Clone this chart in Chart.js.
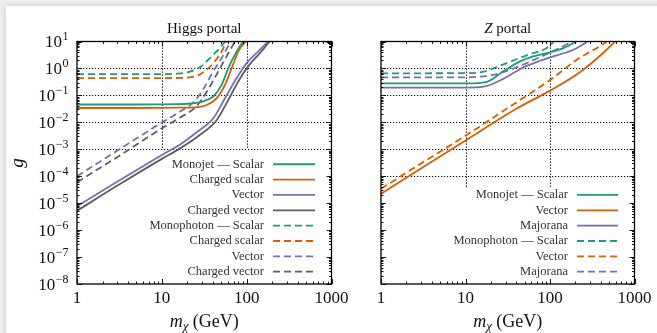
<!DOCTYPE html>
<html>
<head>
<meta charset="utf-8">
<script src="https://cdn.jsdelivr.net/npm/chart.js@4.4.1/dist/chart.umd.min.js"></script>
<style>
  html, body { margin: 0; padding: 0; width: 657px; height: 333px; overflow: hidden; background: #efefef; }
  #card { position: absolute; left: 6px; top: 6px; width: 670px; height: 340px; background: #fff; box-shadow: 0 0 5px rgba(0,0,0,0.18); }
  canvas { position: absolute; top: 0; }
</style>
</head>
<body>
<div id="card"></div>
<canvas id="higgs" width="362" height="333" style="left:0px"></canvas>
<canvas id="zport" width="317" height="333" style="left:340px"></canvas>
<script>
// axis ticks
var massTicks = [1, 10, 100, 1000];
var massTickLabels = ["1", "10", "100", "1000"];
var gExponents = [1, 0, -1, -2, -3, -4, -5, -6, -7, -8];

// Higgs portal, monojet (solid)
var hJetScalarM = [1, 5, 15, 22, 28, 34, 40.4, 50.7, 60.8, 76.2, 91, 100];
var hJetScalarG = [0.046, 0.046, 0.047, 0.05, 0.055, 0.068, 0.091, 0.246, 1.03, 4.3, 10, 15];
var hJetChScalarM = [1, 5, 15, 25, 33.8, 44.3, 55.5, 66.6, 79.6, 97.3, 105];
var hJetChScalarG = [0.034, 0.034, 0.035, 0.036, 0.044, 0.079, 0.246, 1.03, 4.3, 10, 13];
var hJetVectorM = [1, 3, 10, 16.4, 25.7, 40.4, 55.5, 76.2, 100, 137, 180, 195];
var hJetVectorG = [7.7e-6, 6.4e-5, 6.1e-4, 1.5e-3, 4.3e-3, 0.0142, 0.078, 0.44, 1.58, 4.3, 10, 12];
var hJetChVectorM = [1, 3, 10, 16.4, 28, 44.3, 60.8, 79.6, 104, 143, 188, 200];
var hJetChVectorG = [5.2e-6, 4.5e-5, 4.4e-4, 1.08e-3, 3.4e-3, 0.012, 0.068, 0.33, 1.19, 3.7, 10, 12];
// Higgs portal, monophoton (dashed)
var hPhoScalarM = [1, 10, 15, 20, 28, 36.9, 46.3, 55.5, 60];
var hPhoScalarG = [0.62, 0.62, 0.64, 0.72, 1.1, 2.43, 4.95, 9.6, 12];
var hPhoChScalarM = [1, 10, 18, 25.7, 33.8, 42.2, 50.7, 58, 62];
var hPhoChScalarG = [0.44, 0.44, 0.45, 0.53, 0.89, 1.83, 4.3, 9.6, 12];
var hPhoVectorM = [1, 3, 10, 16.4, 23.5, 30.8, 40.4, 50.7, 63.6, 68];
var hPhoVectorG = [1e-4, 9e-4, 0.0098, 0.025, 0.055, 0.17, 0.78, 2.43, 8.8, 12];
var hPhoChVectorM = [1, 3, 10, 16.4, 25.7, 35.3, 46.3, 58, 71, 75];
var hPhoChVectorG = [6e-5, 5.2e-4, 6e-3, 0.015, 0.04, 0.17, 0.78, 2.8, 8.8, 12];

// Z portal, monojet (solid)
var zJetScalarM = [1, 10, 17.8, 28, 44.2, 63.4, 100, 144, 198, 210];
var zJetScalarG = [0.28, 0.28, 0.32, 0.78, 1.83, 2.81, 3.95, 5.7, 9.6, 11];
var zJetVectorM = [1, 2.1, 10, 40.4, 100, 248, 588, 620];
var zJetVectorG = [2.2e-5, 9.8e-5, 2.1e-3, 0.0325, 0.15, 0.9, 10, 12];
var zJetMajoranaM = [1, 10, 16.3, 28, 48.3, 76.2, 120, 189, 272, 290];
var zJetMajoranaG = [0.195, 0.195, 0.21, 0.41, 1.1, 1.93, 3.06, 4.95, 9.6, 11];
// Z portal, monophoton (dashed)
var zPhoScalarM = [1, 10, 16, 30.7, 53, 91.4, 105, 112];
var zPhoScalarG = [0.66, 0.67, 0.75, 1.58, 3.06, 5.7, 8.1, 11];
var zPhoVectorM = [1, 2.1, 10, 40, 100, 207, 469, 500];
var zPhoVectorG = [3.4e-5, 1.5e-4, 3.2e-3, 0.055, 0.37, 2.1, 10, 12];
var zPhoMajoranaM = [1, 10, 21.3, 33.6, 53, 100, 172, 200];
var zPhoMajoranaG = [0.47, 0.47, 0.58, 0.89, 1.58, 3.9, 9.0, 12];

var GREEN = "#1b9e77", ORANGE = "#d95f02", PURPLE = "#7570b3", GREY = "#5e5e5e";
var DASH = [7, 4];
var SERIF = "'Liberation Serif', 'DejaVu Serif', serif";

function pts(m, g) {
  return m.map(function (v, i) { return { x: v, y: g[i] }; });
}

function line(label, m, g, color, dashed) {
  return {
    label: label,
    data: pts(m, g),
    borderColor: color,
    borderWidth: 1.8,
    borderDash: dashed ? DASH : [],
    pointRadius: 0,
    fill: false,
    cubicInterpolationMode: "monotone",
  };
}

// draws grid, frame, ticks, labels and legend in the matplotlib look
var decoPlugin = {
  id: "deco",
  beforeDatasetsDraw: function (chart, args, o) {
    var ctx = chart.ctx, a = chart.chartArea, x = chart.scales.x, y = chart.scales.y;
    ctx.save();
    ctx.strokeStyle = "#000";
    ctx.lineWidth = 1.1;
    ctx.setLineDash([1.2, 1.8]);
    var yb = y.getPixelForValue(o.gridXBottom);
    [10, 100].forEach(function (v) {
      var px = Math.round(x.getPixelForValue(v)) + 0.5;
      ctx.beginPath(); ctx.moveTo(px, a.top); ctx.lineTo(px, yb); ctx.stroke();
    });
    gExponents.forEach(function (e) {
      var v = Math.pow(10, e);
      if (v >= 10 || v < o.gridYMin) return;
      var py = Math.round(y.getPixelForValue(v)) + 0.5;
      ctx.beginPath(); ctx.moveTo(a.left, py); ctx.lineTo(a.right, py); ctx.stroke();
    });
    ctx.restore();
  },
  afterDraw: function (chart, args, o) {
    var ctx = chart.ctx, a = chart.chartArea, x = chart.scales.x, y = chart.scales.y;
    ctx.save();
    // ticks, inward on all four sides
    ctx.strokeStyle = "#000";
    ctx.lineWidth = 0.9;
    function vtick(px, len) {
      ctx.beginPath();
      ctx.moveTo(px, a.bottom); ctx.lineTo(px, a.bottom - len);
      ctx.moveTo(px, a.top); ctx.lineTo(px, a.top + len);
      ctx.stroke();
    }
    function htick(py, len) {
      ctx.beginPath();
      ctx.moveTo(a.left, py); ctx.lineTo(a.left + len, py);
      ctx.moveTo(a.right, py); ctx.lineTo(a.right - len, py);
      ctx.stroke();
    }
    massTicks.forEach(function (v, i) {
      vtick(Math.round(x.getPixelForValue(v)) + 0.5, 5);
      if (i < massTicks.length - 1) {
        for (var k = 2; k < 10; k++) vtick(Math.round(x.getPixelForValue(k * v)) + 0.5, 2.5);
      }
    });
    gExponents.forEach(function (e) {
      var v = Math.pow(10, e);
      htick(Math.round(y.getPixelForValue(v)) + 0.5, 5);
      if (e < 1) {
        for (var k = 2; k < 10; k++) htick(Math.round(y.getPixelForValue(k * v)) + 0.5, 2.5);
      }
    });
    // frame
    ctx.lineWidth = 1.3;
    ctx.strokeRect(a.left, a.top, a.right - a.left, a.bottom - a.top);

    ctx.fillStyle = "#111";
    // x tick labels
    ctx.font = "17px " + SERIF;
    ctx.textAlign = "center";
    ctx.textBaseline = "alphabetic";
    massTicks.forEach(function (v, i) {
      ctx.fillText(massTickLabels[i], x.getPixelForValue(v), 302.5);
    });
    // y tick labels 10^e
    if (o.yLabels) {
      ctx.textAlign = "left";
      gExponents.forEach(function (e) {
        var py = y.getPixelForValue(Math.pow(10, e));
        var sup = e < 0 ? "\u2212" + (-e) : String(e);
        ctx.font = "17px " + SERIF;
        var wb = ctx.measureText("10").width;
        ctx.font = "12px " + SERIF;
        var ws = ctx.measureText(sup).width;
        var x0 = 68.5 - wb - ws - 0.5;
        ctx.font = "17px " + SERIF;
        ctx.fillText("10", x0, py + 5.5);
        ctx.font = "12px " + SERIF;
        ctx.fillText(sup, x0 + wb + 0.5, py - 1.5);
      });
      // y axis title
      ctx.save();
      ctx.translate(23, 163);
      ctx.rotate(-Math.PI / 2);
      ctx.font = "italic 19px " + SERIF;
      ctx.textAlign = "center";
      ctx.fillText("g", 0, 0);
      ctx.restore();
    }
    // x axis title: m_chi (GeV)
    var cx = (a.left + a.right) / 2;
    ctx.textAlign = "left";
    ctx.font = "italic 18px " + SERIF;
    var w1 = ctx.measureText("m").width;
    ctx.font = "italic 13px " + SERIF;
    var w2 = ctx.measureText("\u03c7").width;
    ctx.font = "18px " + SERIF;
    var w3 = ctx.measureText(" (GeV)").width;
    var tx = cx - (w1 + w2 + w3) / 2;
    ctx.font = "italic 18px " + SERIF;
    ctx.fillText("m", tx, 326.5);
    ctx.font = "italic 13px " + SERIF;
    ctx.fillText("\u03c7", tx + w1, 329.5);
    ctx.font = "18px " + SERIF;
    ctx.fillText(" (GeV)", tx + w1 + w2, 326.5);
    // panel title
    ctx.font = (o.titleItalic ? "italic " : "") + "15px " + SERIF;
    var t1 = ctx.measureText(o.titleA).width;
    ctx.font = "15px " + SERIF;
    var t2 = ctx.measureText(o.titleB).width;
    var ttx = cx - (t1 + t2) / 2;
    ctx.font = (o.titleItalic ? "italic " : "") + "15px " + SERIF;
    ctx.fillText(o.titleA, ttx, 32.5);
    ctx.font = "15px " + SERIF;
    ctx.fillText(o.titleB, ttx + t1, 32.5);
    // legend
    var ds = chart.data.datasets;
    ctx.font = "12.5px " + SERIF;
    ctx.textAlign = "right";
    ctx.textBaseline = "middle";
    ds.forEach(function (d, i) {
      var ry = 271.7 - (ds.length - 1 - i) * 15.35;
      ctx.fillStyle = "#333";
      ctx.fillText(d.label, o.legTextRight, ry);
      ctx.strokeStyle = d.borderColor;
      ctx.lineWidth = 1.8;
      ctx.setLineDash(d.borderDash);
      ctx.beginPath();
      ctx.moveTo(o.legX0, ry); ctx.lineTo(o.legX1, ry);
      ctx.stroke();
      ctx.setLineDash([]);
    });
    ctx.restore();
  },
};

function makePanel(id, datasets, yWidth, padRight, deco) {
  return new Chart(document.getElementById(id), {
    type: "line",
    data: { datasets: datasets },
    plugins: [decoPlugin],
    options: {
      responsive: false,
      animation: false,
      events: [],
      layout: { padding: { left: 0, right: padRight, top: 41.5, bottom: 0 } },
      scales: {
        x: {
          type: "logarithmic", min: 1, max: 1000,
          ticks: { display: false }, grid: { display: false }, border: { display: false },
          afterFit: function (s) { s.height = 49; },
        },
        y: {
          type: "logarithmic", min: 1e-8, max: 10,
          ticks: { display: false }, grid: { display: false }, border: { display: false },
          afterFit: function (s) { s.width = yWidth; },
        },
      },
      plugins: { legend: { display: false }, tooltip: { enabled: false }, deco: deco },
    },
  });
}

makePanel("higgs", [
  line("Monojet \u2014 Scalar", hJetScalarM, hJetScalarG, GREEN, false),
  line("Charged scalar", hJetChScalarM, hJetChScalarG, ORANGE, false),
  line("Vector", hJetVectorM, hJetVectorG, PURPLE, false),
  line("Charged vector", hJetChVectorM, hJetChVectorG, GREY, false),
  line("Monophoton \u2014 Scalar", hPhoScalarM, hPhoScalarG, GREEN, true),
  line("Charged scalar", hPhoChScalarM, hPhoChScalarG, ORANGE, true),
  line("Vector", hPhoVectorM, hPhoVectorG, PURPLE, true),
  line("Charged vector", hPhoChVectorM, hPhoChVectorG, GREY, true),
], 77, 30.5, {
  yLabels: true, titleA: "Higgs portal", titleB: "", titleItalic: false,
  gridYMin: 1e-3, gridXBottom: 1e-3,
  legTextRight: 264, legX0: 273, legX1: 315,
});

makePanel("zport", [
  line("Monojet \u2014 Scalar", zJetScalarM, zJetScalarG, GREEN, false),
  line("Vector", zJetVectorM, zJetVectorG, ORANGE, false),
  line("Majorana", zJetMajoranaM, zJetMajoranaG, PURPLE, false),
  line("Monophoton \u2014 Scalar", zPhoScalarM, zPhoScalarG, GREEN, true),
  line("Vector", zPhoVectorM, zPhoVectorG, ORANGE, true),
  line("Majorana", zPhoMajoranaM, zPhoMajoranaG, PURPLE, true),
], 41, 22.5, {
  yLabels: false, titleA: "Z", titleB: " portal", titleItalic: true,
  gridYMin: 1e-4, gridXBottom: 4e-5,
  legTextRight: 228, legX0: 237, legX1: 278,
});
</script>
</body>
</html>
